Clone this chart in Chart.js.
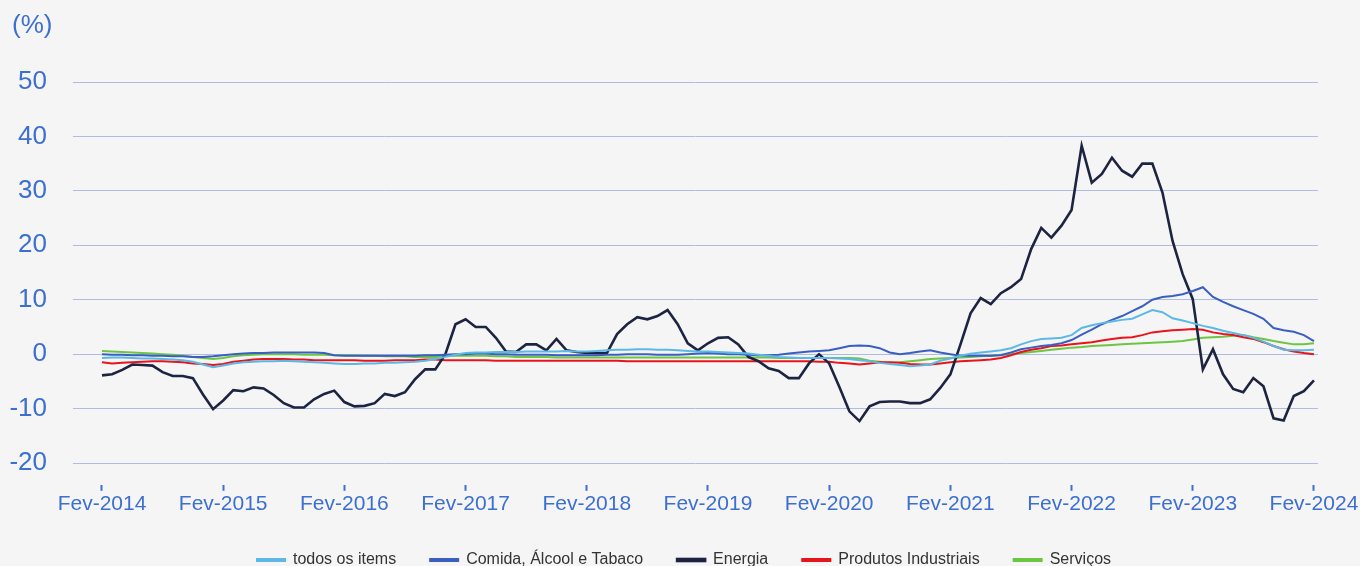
<!DOCTYPE html>
<html>
<head>
<meta charset="utf-8">
<script src="https://cdn.jsdelivr.net/npm/chart.js@4/dist/chart.umd.min.js"></script>
<style>
  html, body { margin: 0; padding: 0; background: #f5f5f5; overflow: hidden; }
  #wrap { width: 1360px; height: 578px; }
</style>
</head>
<body>
<div id="wrap"><canvas id="chart"></canvas></div>
<script>
// monthly values, Fev-2014 .. Fev-2024 (121 months)
const tickMonths = [0, 12, 24, 36, 48, 60, 72, 84, 96, 108, 120];
const tickLabels = ['Fev-2014', 'Fev-2015', 'Fev-2016', 'Fev-2017', 'Fev-2018', 'Fev-2019',
  'Fev-2020', 'Fev-2021', 'Fev-2022', 'Fev-2023', 'Fev-2024'];
const yTicks = [-20, -10, 0, 10, 20, 30, 40, 50];

const seriesNames = ['todos os items', 'Comida, Álcool e Tabaco', 'Energia', 'Produtos Industriais', 'Serviços'];

const todos = [
  -0.7, -0.6, -0.6, -0.7, -0.8, -0.8, -0.9, -1.0, -1.1, -1.4, -1.9, -2.4,
  -2.1, -1.7, -1.5, -1.4, -1.3, -1.3, -1.2, -1.3, -1.4, -1.5, -1.6, -1.7,
  -1.8, -1.8, -1.7, -1.7, -1.6, -1.6, -1.5, -1.4, -1.2, -0.9, -0.5, -0.1,
  0.2, 0.3, 0.3, 0.4, 0.4, 0.4, 0.5, 0.5, 0.5, 0.5, 0.6, 0.5,
  0.5, 0.6, 0.7, 0.8, 0.8, 0.9, 0.9, 0.8, 0.8, 0.7, 0.6, 0.5,
  0.5, 0.4, 0.3, 0.2, 0.1, -0.1, -0.3, -0.5, -0.6, -0.7, -0.7, -0.7,
  -0.7, -0.8, -0.9, -1.1, -1.3, -1.6, -1.8, -2.0, -2.2, -2.1, -1.9, -1.2,
  -0.8, -0.3, 0.1, 0.3, 0.5, 0.7, 1.1, 1.8, 2.4, 2.8, 2.9, 3.0,
  3.5, 4.8, 5.3, 5.7, 6.0, 6.3, 6.5, 7.3, 8.1, 7.7, 6.6, 6.2,
  5.7, 5.2, 4.8, 4.3, 3.9, 3.5, 3.0, 2.3, 1.5, 0.8, 0.7, 0.7, 0.8
];
const comida = [
  0.0, -0.1, -0.1, -0.2, -0.2, -0.3, -0.3, -0.4, -0.4, -0.5, -0.5, -0.4,
  -0.2, 0.0, 0.1, 0.2, 0.2, 0.3, 0.3, 0.3, 0.3, 0.3, 0.2, -0.2,
  -0.3, -0.3, -0.3, -0.3, -0.3, -0.3, -0.3, -0.3, -0.2, -0.2, -0.1, 0.0,
  0.0, 0.1, 0.1, 0.0, 0.0, -0.1, -0.1, -0.1, -0.1, -0.2, -0.2, -0.2,
  -0.2, -0.2, -0.1, -0.1, 0.0, 0.0, 0.0, -0.1, -0.1, -0.1, 0.0, 0.1,
  0.2, 0.1, 0.0, 0.0, -0.1, -0.2, -0.2, -0.1, 0.1, 0.3, 0.5, 0.6,
  0.7, 1.1, 1.5, 1.6, 1.5, 1.1, 0.3, 0.0, 0.2, 0.5, 0.7, 0.3,
  0.0, -0.3, -0.3, -0.3, -0.3, -0.2, 0.3, 0.9, 1.2, 1.5, 1.7, 2.0,
  2.6, 3.6, 4.5, 5.5, 6.3, 7.0, 7.9, 8.8, 10.0, 10.5, 10.7, 11.0,
  11.6, 12.3, 10.5, 9.6, 8.8, 8.1, 7.4, 6.5, 4.8, 4.4, 4.1, 3.5, 2.4
];
const energia = [
  -3.9, -3.7, -2.9, -1.9, -2.0, -2.1, -3.3, -4.0, -4.0, -4.4, -7.4, -10.1,
  -8.5, -6.6, -6.8, -6.1, -6.3, -7.5, -9.0, -9.8, -9.8, -8.3, -7.3, -6.7,
  -8.8, -9.6, -9.5, -9.0, -7.3, -7.7, -7.0, -4.6, -2.8, -2.8, 0.0, 5.5,
  6.4, 5.0, 5.0, 3.0, 0.5, 0.4, 1.8, 1.8, 0.7, 2.8, 0.7, 0.4,
  0.2, 0.2, 0.2, 3.7, 5.5, 6.8, 6.4, 7.0, 8.1, 5.5, 2.0, 0.7,
  2.0, 3.0, 3.1, 1.8, -0.5, -1.3, -2.6, -3.1, -4.4, -4.4, -1.7, 0.0,
  -1.7, -6.0, -10.5, -12.3, -9.6, -8.8, -8.7, -8.7, -9.0, -9.0, -8.3, -6.2,
  -3.7, 1.8, 7.5, 10.3, 9.2, 11.2, 12.3, 13.8, 19.3, 23.2, 21.4, 23.6,
  26.5, 38.3, 31.5, 33.1, 36.1, 33.7, 32.6, 35.0, 35.0, 29.7, 20.8, 14.7,
  10.1, -2.8, 0.9, -3.7, -6.4, -7.0, -4.4, -5.9, -11.8, -12.2, -7.7, -6.8, -4.8
];
const industriais = [
  -1.5, -1.7, -1.6, -1.5, -1.4, -1.3, -1.3, -1.4, -1.5, -1.7, -1.8, -2.0,
  -1.8, -1.4, -1.2, -1.0, -0.9, -0.9, -0.9, -1.0, -1.0, -1.1, -1.1, -1.1,
  -1.1, -1.1, -1.2, -1.2, -1.2, -1.1, -1.1, -1.1, -1.0, -1.0, -1.1, -1.1,
  -1.1, -1.1, -1.1, -1.2, -1.2, -1.2, -1.2, -1.2, -1.2, -1.2, -1.2, -1.2,
  -1.2, -1.2, -1.2, -1.2, -1.3, -1.3, -1.3, -1.3, -1.3, -1.3, -1.3, -1.3,
  -1.3, -1.3, -1.3, -1.3, -1.3, -1.3, -1.3, -1.3, -1.3, -1.3, -1.3, -1.4,
  -1.4, -1.6, -1.7, -1.9, -1.7, -1.5, -1.5, -1.6, -1.8, -1.9, -1.9, -1.7,
  -1.5, -1.3, -1.2, -1.1, -1.0, -0.7, -0.2, 0.4, 0.8, 1.1, 1.5, 1.6,
  1.8, 2.0, 2.2, 2.5, 2.8, 3.0, 3.1, 3.5, 4.0, 4.2, 4.4, 4.5,
  4.6, 4.5, 4.0, 3.7, 3.5, 3.1, 2.8, 2.2, 1.5, 0.9, 0.5, 0.2, 0.0
];
const servicos = [
  0.6, 0.5, 0.4, 0.3, 0.2, 0.1, 0.0, -0.1, -0.3, -0.5, -0.7, -0.9,
  -0.7, -0.4, -0.2, -0.1, 0.0, 0.0, 0.0, 0.0, -0.1, -0.1, -0.1, -0.2,
  -0.2, -0.2, -0.3, -0.3, -0.4, -0.4, -0.4, -0.5, -0.5, -0.5, -0.4, -0.3,
  -0.3, -0.3, -0.3, -0.4, -0.4, -0.5, -0.5, -0.5, -0.5, -0.6, -0.6, -0.6,
  -0.6, -0.6, -0.6, -0.6, -0.6, -0.6, -0.6, -0.6, -0.6, -0.6, -0.6, -0.6,
  -0.6, -0.6, -0.6, -0.6, -0.6, -0.6, -0.6, -0.7, -0.7, -0.7, -0.7, -0.7,
  -0.7, -0.7, -0.7, -0.8, -1.2, -1.4, -1.6, -1.5, -1.3, -1.1, -0.9, -0.8,
  -0.7, -0.6, -0.5, -0.4, -0.3, -0.1, 0.0, 0.2, 0.4, 0.6, 0.8, 1.0,
  1.2, 1.3, 1.5, 1.6, 1.7, 1.8, 1.9, 2.0, 2.1, 2.2, 2.3, 2.4,
  2.7, 3.0, 3.1, 3.2, 3.4, 3.5, 3.1, 2.8, 2.4, 2.1, 1.8, 1.8, 2.0
];

const blue = '#3d6fd0';
const gridBlue = '#aebbe3';
const font = '"Liberation Sans", Arial, sans-serif';

const toPoints = (arr) => arr.map((v, i) => ({ x: i, y: v }));

function line(label, values, color, width) {
  return {
    label,
    data: toPoints(values),
    borderColor: color,
    backgroundColor: color,
    borderWidth: width,
    pointRadius: 0,
    tension: 0,
  };
}

// "(%)" unit label in the top left corner
const percentLabel = {
  id: 'percentLabel',
  afterDraw(chart) {
    const ctx = chart.ctx;
    ctx.save();
    ctx.font = '26px ' + font;
    ctx.fillStyle = blue;
    ctx.textBaseline = 'middle';
    ctx.fillText('(%)', 12, 26);
    ctx.restore();
  },
};

new Chart(document.getElementById('chart'), {
  type: 'line',
  data: {
    datasets: [
      line(seriesNames[0], todos, '#5cb9e6', 2),
      line(seriesNames[1], comida, '#3a5fc2', 2),
      line(seriesNames[2], energia, '#1c2441', 2.6),
      line(seriesNames[3], industriais, '#e8141c', 2),
      line(seriesNames[4], servicos, '#6cc644', 2),
    ],
  },
  plugins: [percentLabel],
  options: {
    responsive: true,
    maintainAspectRatio: false,
    animation: false,
    layout: { padding: { top: 82, left: 8, right: 0, bottom: 0 } },
    plugins: {
      legend: {
        position: 'bottom',
        labels: {
          boxWidth: 28,
          boxHeight: 2,
          padding: 34,
          color: '#333333',
          font: { family: font, size: 16 },
        },
      },
      tooltip: { enabled: false },
    },
    scales: {
      x: {
        type: 'linear',
        min: -2.87,
        max: 120.4,
        afterBuildTicks: (scale) => {
          scale.ticks = tickMonths.map((v) => ({ value: v }));
        },
        afterFit: (scale) => {
          scale.paddingLeft = 0;
          scale.paddingRight = 42;
        },
        ticks: {
          color: blue,
          padding: 1,
          maxRotation: 0,
          font: { family: font, size: 21 },
          callback: (value) => tickLabels[tickMonths.indexOf(value)],
        },
        grid: {
          drawOnChartArea: false,
          drawTicks: true,
          tickLength: 6,
          tickWidth: 2,
          tickColor: blue,
        },
        border: { display: false },
      },
      y: {
        min: -24,
        max: 50,
        afterBuildTicks: (scale) => {
          scale.ticks = yTicks.map((v) => ({ value: v }));
        },
        afterFit: (scale) => {
          scale.width = 65;
        },
        ticks: {
          color: blue,
          padding: 26,
          font: { family: font, size: 26 },
        },
        grid: {
          color: gridBlue,
          lineWidth: 1,
          drawTicks: false,
        },
        border: { display: false },
      },
    },
  },
});
</script>
</body>
</html>
